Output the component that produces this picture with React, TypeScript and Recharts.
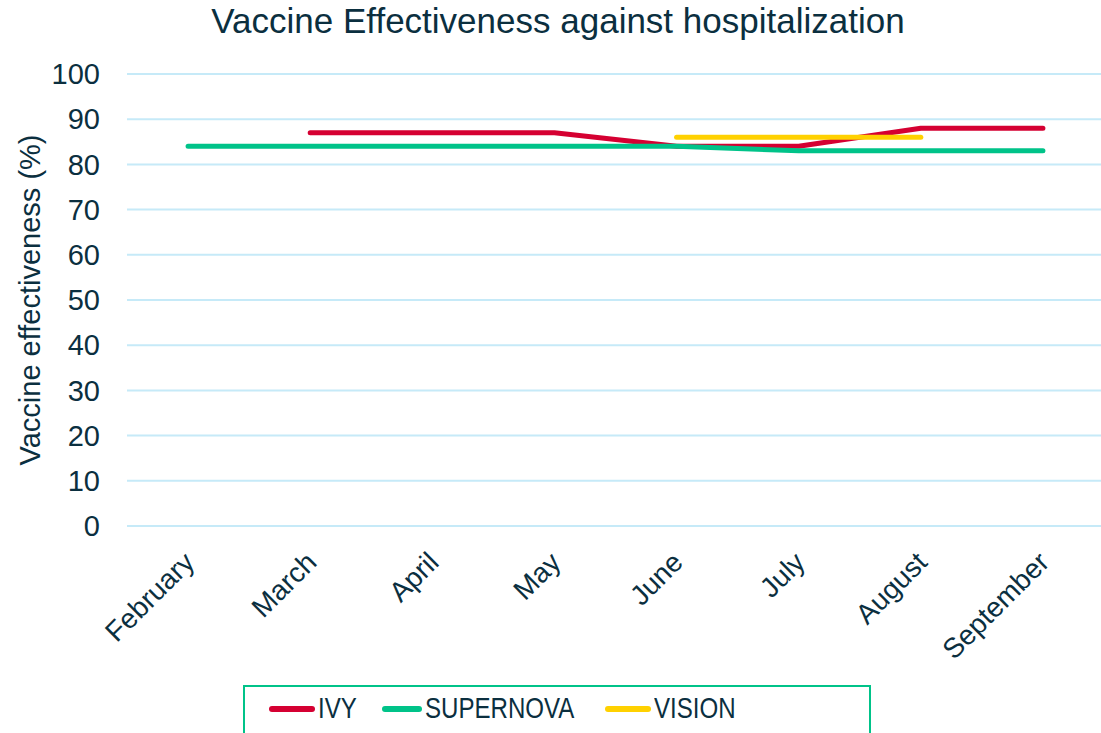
import React from "react";
import { LineChart, Line, XAxis, YAxis, CartesianGrid, Legend } from "recharts";

const months = ["February", "March", "April", "May", "June", "July", "August", "September"];
const ivy = [null, 87, 87, 87, 84, 84, 88, 88];
const supernova = [84, 84, 84, 84, 84, 83, 83, 83];
const vision = [null, null, null, null, 86, 86, 86, null];
const yTicks = [0, 10, 20, 30, 40, 50, 60, 70, 80, 90, 100];

const series = [
  { key: "IVY", values: ivy, color: "#d50032", slot: 113 },
  { key: "SUPERNOVA", values: supernova, color: "#00c389", slot: 223 },
  { key: "VISION", values: vision, color: "#ffd100", slot: 200 },
];

const data = months.map((m, i) => ({
  month: m,
  IVY: ivy[i],
  SUPERNOVA: supernova[i],
  VISION: vision[i],
}));

const TEXT = "#0b2f3f";
const FONT = "'Liberation Sans', Arial, sans-serif";

function MonthTick(props: any) {
  const { x, y, payload } = props;
  return (
    <g transform={`translate(${x + 8},${y + 30})`}>
      <text transform="rotate(-45)" textAnchor="end" fill={TEXT} fontSize={28} fontFamily={FONT}>
        {payload.value}
      </text>
    </g>
  );
}

// legend font in the original is a condensed face; squeeze the regular one
function LegendBox() {
  return (
    <div
      style={{
        width: 628,
        height: 56,
        border: "2px solid #00c389",
        boxSizing: "border-box",
        display: "flex",
        alignItems: "flex-start",
        paddingTop: 5,
        paddingLeft: 24,
        fontFamily: FONT,
        fontSize: 29,
        color: TEXT,
      }}
    >
      {series.map((s) => (
        <div key={s.key} style={{ display: "flex", alignItems: "center", width: s.slot, flex: "none" }}>
          <span style={{ display: "inline-block", width: 46, height: 6, borderRadius: 3, background: s.color }} />
          <span style={{ display: "inline-block", marginLeft: 3, transform: "scaleX(0.83)", transformOrigin: "left center" }}>
            {s.key}
          </span>
        </div>
      ))}
    </div>
  );
}

export default function App() {
  return (
    <div style={{ position: "fixed", left: 0, top: 0, width: 1101, height: 733, background: "#fff", overflow: "hidden" }}>
      <div
        style={{
          position: "absolute",
          top: 1,
          left: 0,
          width: 1116,
          textAlign: "center",
          fontFamily: FONT,
          fontSize: 35,
          color: TEXT,
        }}
      >
        Vaccine Effectiveness against hospitalization
      </div>
      <LineChart width={1104} height={733} data={data} margin={{ top: 74, right: 0, bottom: 0, left: 0 }}>
        <CartesianGrid vertical={false} stroke="#c6eaf8" strokeWidth={2} />
        <XAxis
          dataKey="month"
          scale="band"
          axisLine={false}
          tickLine={false}
          interval={0}
          height={151}
          tick={<MonthTick />}
        />
        <YAxis
          domain={[0, 100]}
          ticks={yTicks}
          width={127}
          axisLine={false}
          tickLine={false}
          tick={{ fill: TEXT, fontSize: 29, fontFamily: FONT }}
          tickMargin={21}
          label={{
            value: "Vaccine effectiveness (%)",
            angle: -90,
            position: "insideLeft",
            offset: 30,
            style: { textAnchor: "middle", fill: TEXT, fontSize: 29, fontFamily: FONT },
          }}
        />
        <Legend
          content={<LegendBox />}
          wrapperStyle={{ position: "absolute", left: 243, top: 685, width: 628, height: 56 }}
        />
        {series.map((s) => (
          <Line
            key={s.key}
            dataKey={s.key}
            stroke={s.color}
            strokeWidth={5}
            strokeLinecap="round"
            strokeLinejoin="round"
            dot={false}
            activeDot={false}
            type="linear"
            isAnimationActive={false}
          />
        ))}
      </LineChart>
    </div>
  );
}
